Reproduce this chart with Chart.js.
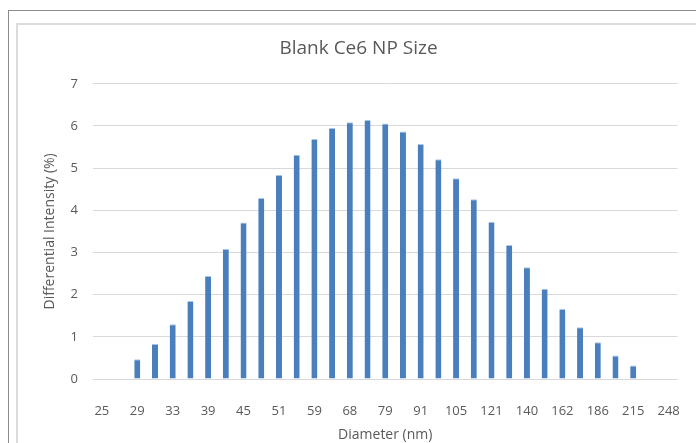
<!DOCTYPE html>
<html>
<head>
<meta charset="utf-8">
<script src="https://cdn.jsdelivr.net/npm/chart.js@4"></script>
<style>
    body { margin: 0; background: #fff; overflow: hidden; }
    #wrap { position: relative; width: 696px; height: 443px; }
    .frame-outer { position: absolute; left: 8px; top: 10px; width: 720px; height: 460px;
        border-left: 1px solid #8c8c8c; border-top: 1px solid #8c8c8c; }
    .frame-inner { position: absolute; left: 16px; top: 23px; width: 720px; height: 460px;
        border-left: 2px solid #dcdcdc; border-top: 2px solid #dcdcdc; }
    canvas { position: absolute; left: 0; top: 0; }
</style>
</head>
<body>
<div id="wrap">
    <div class="frame-outer"></div>
    <div class="frame-inner"></div>
    <canvas id="chart" width="696" height="443"></canvas>
</div>
<script>
const diameters = [25, 27, 29, 31, 33, 36, 39, 42, 45, 48, 51, 55, 59, 63, 68, 73, 79,
    85, 91, 98, 105, 113, 121, 130, 140, 151, 162, 174, 186, 200, 215, 231, 248];
const intensity = [0, 0, 0.47, 0.83, 1.30, 1.85, 2.44, 3.08, 3.71, 4.29, 4.84, 5.32, 5.69,
    5.95, 6.09, 6.14, 6.06, 5.87, 5.57, 5.21, 4.76, 4.26, 3.73, 3.18, 2.65, 2.14, 1.66,
    1.23, 0.87, 0.56, 0.32, 0, 0];
const yMin = 0, yMax = 7, yStep = 1;

const textColor = '#595959';
const fontFamily = '"Open Sans", sans-serif';

const ctx = document.getElementById('chart').getContext('2d');
new Chart(ctx, {
    type: 'bar',
    data: {
        labels: diameters.map(String),
        datasets: [{
            label: 'Differential Intensity',
            data: intensity,
            backgroundColor: '#4a7fbd',
            borderColor: '#a9c4e4',
            borderWidth: { top: 1, left: 0, right: 0, bottom: 0 },
            barPercentage: 1,
            categoryPercentage: 0.34
        }]
    },
    options: {
        responsive: false,
        animation: false,
        // left padding keeps the title centred the way the original is
        layout: { padding: { left: 36, right: 15, top: 0, bottom: 0 } },
        plugins: {
            legend: { display: false },
            tooltip: { enabled: false },
            title: {
                display: true,
                text: 'Blank Ce6 NP Size',
                color: textColor,
                font: { family: fontFamily, size: 19, weight: 'normal' },
                padding: { top: 37, bottom: 24 }
            }
        },
        scales: {
            x: {
                grid: { display: false },
                border: { display: false },
                ticks: {
                    color: textColor,
                    font: { family: fontFamily, size: 13 },
                    autoSkip: false,
                    maxRotation: 0,
                    padding: 16,
                    callback: function(val, i) {
                        return i % 2 === 0 ? diameters[i] : '';
                    }
                },
                title: {
                    display: true,
                    text: 'Diameter (nm)',
                    color: textColor,
                    font: { family: fontFamily, size: 14 },
                    padding: { top: 0, bottom: 0 }
                },
                afterFit: function(scale) { scale.height = 64; }
            },
            y: {
                min: yMin,
                max: yMax,
                grid: { color: '#d9d9d9', drawTicks: false },
                border: { display: false },
                ticks: {
                    stepSize: yStep,
                    color: textColor,
                    font: { family: fontFamily, size: 13 },
                    padding: 15
                },
                title: {
                    display: true,
                    text: 'Differential Intensity (%)',
                    color: textColor,
                    font: { family: fontFamily, size: 14 },
                    padding: { top: 6, bottom: 0 }
                },
                afterFit: function(scale) { scale.width = 57; }
            }
        }
    }
});
</script>
</body>
</html>
